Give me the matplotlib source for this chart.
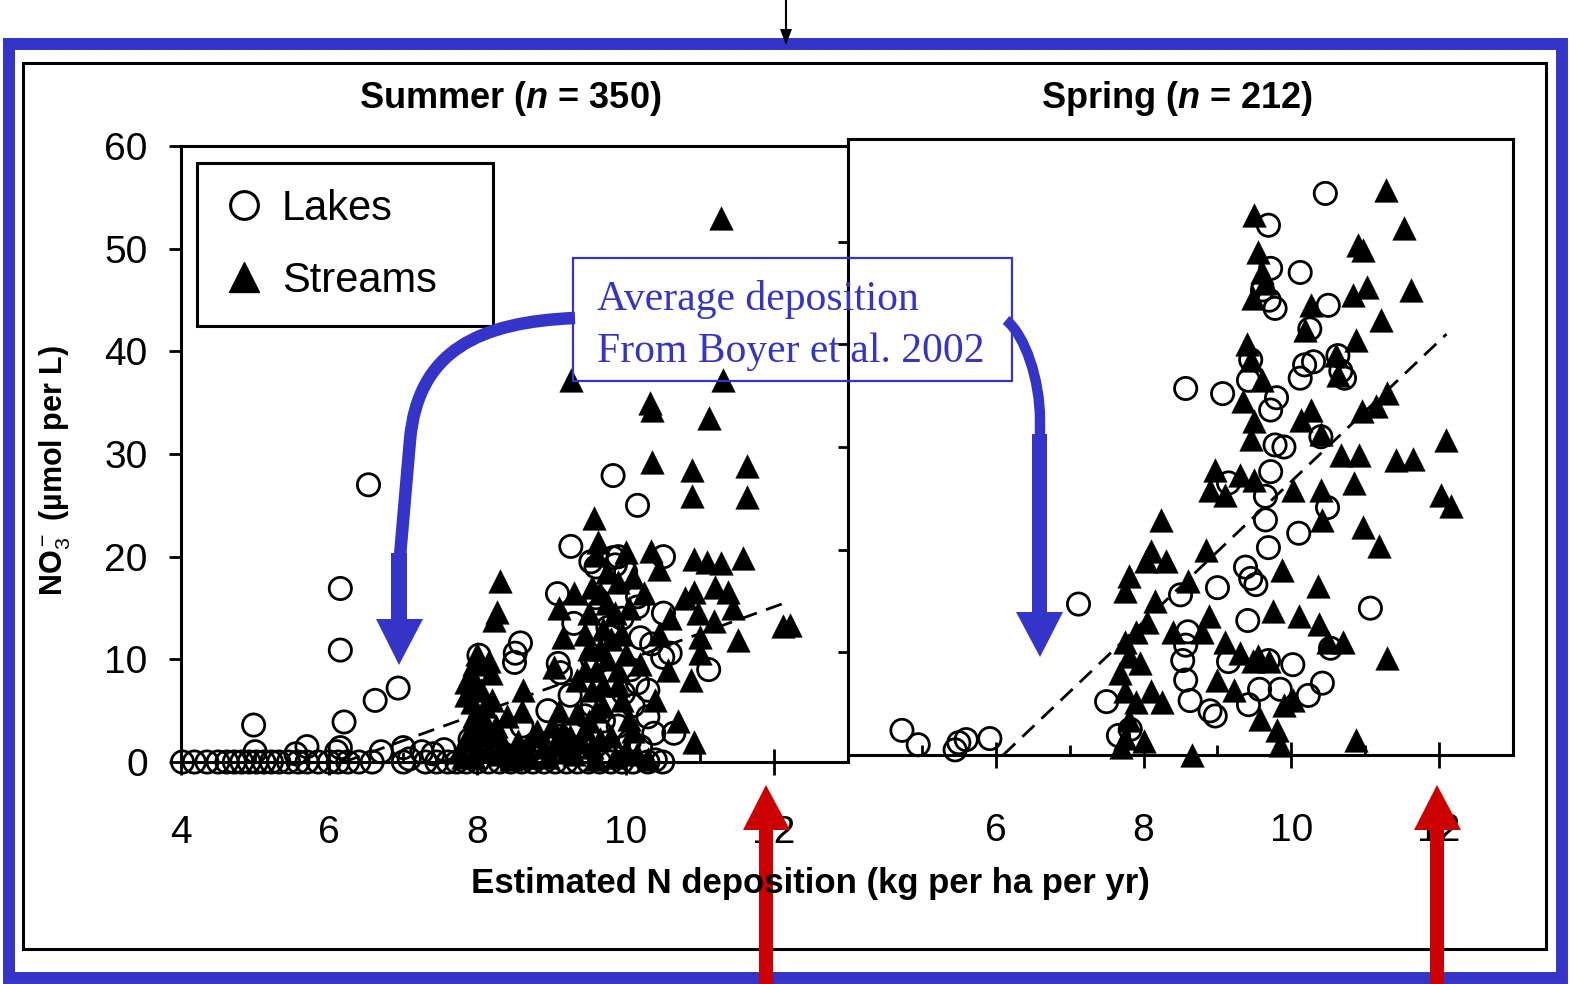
import matplotlib
matplotlib.use("Agg")
import matplotlib.pyplot as plt
from matplotlib.patches import Rectangle, Polygon, PathPatch
from matplotlib.path import Path
from matplotlib.lines import Line2D
from matplotlib.ticker import FixedLocator

plt.rcParams['mathtext.fontset'] = 'custom'
plt.rcParams['mathtext.rm'] = 'Liberation Sans'
plt.rcParams['mathtext.it'] = 'Liberation Sans:italic:bold'

# ---- data (x = N deposition, y = NO3-) ----
summer_lakes = [
    (4.02, 0), (4.18, 0), (4.35, 0), (4.5, 0), (4.62, 0), (4.72, 0), (4.82, 0), (4.92, 0),
    (5.02, 0), (5.12, 0), (5.22, 0), (5.32, 0), (5.45, 0), (5.58, 0), (5.7, 0), (5.85, 0),
    (6.0, 0), (6.12, 0), (6.25, 0), (6.4, 0), (6.58, 0), (7.0, 0), (7.08, 0.3), (7.3, 0),
    (7.45, 0), (7.6, 0), (7.72, 0), (7.85, 0), (8.0, 0), (8.15, 0), (8.3, 0), (8.45, 0),
    (8.6, 0), (8.75, 0), (8.9, 0), (9.05, 0), (9.2, 0), (9.35, 0), (9.5, 0), (9.65, 0),
    (9.8, 0), (9.95, 0), (10.1, 0), (10.3, 0), (10.4, 0.2), (10.5, 0),
    (4.98, 3.6), (5.0, 1.0), (5.55, 0.8), (5.7, 1.5), (6.1, 1.0), (6.15, 1.4), (6.2, 3.9),
    (6.15, 10.9), (6.15, 16.9), (6.53, 27.0), (6.62, 6.0), (6.93, 7.2), (6.7, 1.0),
    (7.0, 1.4), (7.25, 1.0), (7.4, 0.8), (7.55, 1.2),
    (8.02, 10.4), (8.5, 9.7), (8.51, 10.6), (8.58, 11.6), (8.2, 1.5), (8.7, 1.0),
    (9.08, 16.4), (9.26, 21.0), (9.53, 19.5), (9.83, 19.9), (9.86, 19.2), (9.83, 27.9),
    (10.16, 25.0), (10.51, 20.0), (10.51, 14.5), (10.16, 16.1), (10.16, 15.1), (10.6, 10.6),
    (10.5, 10.2), (11.12, 9.0), (9.09, 9.6), (9.12, 8.7), (10.07, 9.0), (10.16, 7.7),
    (9.97, 6.7), (10.3, 4.4), (10.38, 2.8), (10.65, 2.8), (9.8, 12.2), (9.76, 13.1),
    (10.2, 12.1), (10.35, 11.5), (9.95, 14.0), (10.0, 18.5), (9.6, 16.0), (9.55, 5.5),
    (9.7, 4.0), (9.65, 3.0), (9.4, 1.5), (9.9, 3.5), (10.05, 2.0), (8.95, 5.0), (9.1, 2.5),
    (8.6, 3.5), (8.9, 1.8), (7.9, 2.2), (8.35, 0.8), (9.55, 10.0), (9.3, 13.5), (9.25, 6.5),
    (10.3, 7.0), (10.1, 5.5), (10.2, 1.5), (9.8, 8.0), (9.6, 19.0), (9.9, 20.0), (9.45, 4.5),
]

summer_streams = [
    (11.28, 53.0), (9.26, 37.2), (11.31, 37.2), (11.12, 33.5), (10.33, 35.0), (10.35, 34.3),
    (10.35, 29.2), (10.9, 28.4), (11.64, 28.8), (10.9, 25.9), (11.64, 25.8), (9.57, 23.8),
    (8.31, 17.6), (8.26, 14.6), (8.22, 13.8), (9.62, 21.4), (9.6, 20.2), (10.34, 20.6),
    (10.92, 19.8), (11.1, 19.5), (11.28, 19.4), (11.58, 19.9), (11.38, 16.6), (10.92, 16.6),
    (10.1, 18.0), (10.97, 14.5), (11.19, 13.7), (11.51, 11.9), (12.12, 13.2), (12.22, 13.3),
    (11.0, 10.6), (10.88, 8.0), (10.57, 9.0), (10.92, 1.9), (8.61, 7.0), (9.16, 12.2),
    (9.03, 9.3), (7.9, 8.3), (7.85, 6.5), (7.92, 5.8), (8.18, 8.7), (8.05, 7.0), (8.2, 6.0),
    (8.1, 4.0), (7.9, 3.0), (8.0, 1.5), (7.8, 0.5), (8.3, 0.8), (8.5, 1.0), (8.7, 0.5),
    (8.9, 1.5), (9.0, 3.5), (9.1, 5.0), (9.2, 1.0), (9.4, 2.0), (9.5, 4.0), (9.55, 7.0),
    (9.6, 9.0), (9.65, 11.0), (9.7, 13.0), (9.75, 15.5), (9.55, 17.0), (9.45, 12.5),
    (9.5, 14.5), (9.7, 5.5), (9.8, 2.5), (9.85, 0.5), (10.0, 1.2), (10.1, 3.0), (10.2, 9.5),
    (10.0, 10.5), (9.9, 17.5), (10.0, 20.5), (10.45, 12.5), (10.45, 18.8), (10.8, 16.0),
    (11.2, 17.0), (10.7, 4.0), (10.4, 6.0), (10.6, 14.0), (11.45, 15.0), (9.35, 8.0),
    (9.25, 2.5), (8.8, 3.0), (8.55, 2.0), (8.2, 2.5), (7.95, 9.5), (8.0, 7.5), (9.9, 7.5),
    (10.25, 16.5), (9.3, 16.5), (9.1, 15.0), (8.6, 0.5), (9.6, 0.3), (10.3, 0.3), (11.0, 12.2),
    (7.75, 1.0), (7.85, 2.0), (7.95, 0.5), (8.05, 2.8), (8.15, 1.2), (8.25, 3.5), (8.35, 1.8),
    (8.45, 0.3), (8.65, 1.5), (8.75, 2.5), (8.95, 0.5), (9.05, 1.8), (9.15, 3.0), (9.3, 0.8),
    (9.45, 3.2), (9.55, 1.5), (9.65, 2.2), (9.7, 7.5), (9.75, 10.0), (9.8, 12.0), (9.85, 14.5),
    (9.65, 16.5), (9.75, 18.5), (9.9, 9.0), (9.95, 6.0), (10.05, 4.2), (10.15, 0.8), (9.6, 5.0),
    (9.5, 11.0), (9.45, 9.0), (7.95, 4.5), (8.1, 5.5), (8.0, 10.5), (8.15, 9.8), (7.85, 7.8),
    (8.4, 4.5), (8.6, 5.0), (9.35, 4.8), (10.05, 15.0), (9.95, 12.5),
]

spring_lakes = [
    (10.46, 54.7), (9.69, 51.6), (9.72, 47.4), (10.12, 47.0), (9.61, 45.3), (9.7, 44.3),
    (9.78, 43.5), (10.25, 41.5), (10.5, 43.8), (10.63, 38.9), (10.67, 37.4), (10.72, 36.7),
    (10.3, 38.3), (10.12, 36.7), (10.18, 38.0), (8.57, 35.7), (9.07, 35.2), (9.45, 38.5),
    (9.42, 36.5), (9.8, 34.8), (9.72, 33.6), (9.78, 30.2), (9.72, 27.6), (9.65, 25.2),
    (7.12, 14.7), (7.5, 5.2), (7.66, 1.9), (8.5, 15.6), (8.57, 10.7), (8.53, 9.2),
    (8.57, 7.3), (8.63, 5.3), (8.9, 4.3), (8.97, 3.8), (9.0, 16.3), (9.38, 18.3),
    (9.45, 17.2), (9.52, 16.6), (9.65, 22.9), (9.69, 20.2), (10.1, 21.6), (10.49, 24.1),
    (9.41, 13.1), (9.69, 9.2), (9.42, 4.9), (9.85, 6.4), (9.57, 6.4), (10.02, 8.8),
    (10.23, 5.8), (10.42, 7.0), (10.53, 10.4), (11.07, 14.3), (9.15, 9.1), (4.73, 2.4),
    (4.95, 1.0), (5.45, 0.5), (5.5, 1.2), (5.6, 1.5), (5.92, 1.6), (7.82, 2.5), (8.6, 12.0),
    (9.9, 30.0), (10.4, 31.0), (9.15, 26.5),
]

spring_streams = [
    (11.28, 55.0), (9.49, 52.6), (11.52, 51.3), (10.9, 49.7), (10.97, 49.2), (11.62, 45.3),
    (11.03, 45.6), (10.83, 44.8), (9.55, 49.0), (9.6, 47.0), (9.48, 44.5), (9.65, 46.0),
    (11.21, 42.4), (10.26, 43.8), (10.19, 41.4), (10.87, 40.4), (9.45, 38.5), (9.4, 40.0),
    (9.6, 36.5), (9.35, 34.5), (9.5, 32.5), (10.6, 39.0), (10.63, 37.0), (11.3, 35.3),
    (10.95, 33.5), (11.15, 34.0), (10.26, 33.6), (10.13, 32.6), (10.4, 31.3), (10.67, 29.2),
    (10.91, 29.2), (11.41, 28.7), (11.64, 28.8), (12.09, 30.7), (12.02, 25.3), (12.16, 24.3),
    (8.97, 27.8), (8.9, 25.8), (9.1, 25.3), (9.3, 27.3), (9.5, 26.8), (9.45, 30.8),
    (10.02, 25.8), (10.4, 25.8), (10.42, 22.9), (8.23, 22.9), (8.1, 19.9), (8.03, 18.9),
    (8.3, 18.9), (7.75, 16.0), (7.8, 17.4), (8.15, 15.0), (8.6, 16.9), (8.88, 13.5),
    (8.79, 12.0), (9.88, 18.0), (10.36, 16.5), (10.38, 12.8), (10.5, 11.0), (10.7, 11.0),
    (10.97, 22.2), (10.85, 26.5), (11.18, 20.4), (11.3, 9.4), (7.75, 11.0), (7.8, 9.6),
    (7.95, 9.0), (7.68, 8.0), (7.75, 6.2), (7.9, 5.2), (8.1, 6.2), (8.25, 5.2), (7.8, 3.4),
    (7.7, 0.8), (7.75, 1.7), (8.0, 1.4), (8.65, 0.0), (9.85, 1.0), (10.87, 1.5), (9.0, 7.3),
    (9.22, 6.3), (9.48, 9.2), (9.7, 9.2), (9.3, 9.9), (9.55, 9.6), (9.9, 4.9), (10.02, 5.4),
    (9.8, 2.4), (9.1, 11.0), (8.85, 20.0), (8.05, 13.0), (7.9, 12.0), (8.4, 12.0),
    (9.75, 14.0), (9.58, 3.5), (10.1, 13.5),
]

# dashed fitted lines (end points)
summer_fit_x = [6.2, 12.15]
summer_fit_y = [0, 15.5]
spring_fit_x = [6.1, 12.1]
spring_fit_y = [0, 41.0]

x_ticks_summer = [4, 6, 8, 10, 12]
x_ticks_spring = [6, 8, 10, 12]
y_ticks = [0, 10, 20, 30, 40, 50, 60]

W, H = 1571, 984
BLUE = '#3434c8'
RED = '#cc0000'


def box(l, t, r, b):
    return [l / W, 1 - b / H, (r - l) / W, (b - t) / H]


fig = plt.figure(figsize=(W / 100, H / 100), dpi=100)

ax1 = fig.add_axes(box(181, 146, 848, 762))
ax2 = fig.add_axes(box(848, 139, 1513, 755))

panels = [
    (ax1, summer_lakes, summer_streams, summer_fit_x, summer_fit_y, x_ticks_summer, 29),
    (ax2, spring_lakes, spring_streams, spring_fit_x, spring_fit_y, x_ticks_spring, 32),
]
for ax, lakes, streams, fx, fy, xt, xpad in panels:
    lx, ly = zip(*lakes)
    sx, sy = zip(*streams)
    ax.scatter(lx, ly, s=16 ** 2, facecolors='none', edgecolors='black',
               linewidths=2.0, clip_on=False, zorder=3)
    ax.scatter(sx, sy, s=17 ** 2, marker='^', c='black', linewidths=0.3,
               clip_on=False, zorder=3)
    ax.plot(fx, fy, color='black', lw=2.0, dashes=(6, 3.5), zorder=2)
    ax.set_xlim(4, 13)
    ax.set_ylim(0, 60)
    ax.set_xticks(xt)
    ax.set_xticklabels([str(v) for v in xt])
    ax.xaxis.set_minor_locator(FixedLocator([5, 7, 9, 11]))
    ax.tick_params(axis='x', which='major', direction='inout', length=19, width=2,
                   pad=xpad, labelsize=28, labelfontfamily='Liberation Sans')
    ax.tick_params(axis='x', which='minor', direction='in', length=7, width=2)
    for sp in ax.spines.values():
        sp.set_linewidth(2.2)

ax1.set_yticks(y_ticks)
ax1.tick_params(axis='y', direction='out', length=9, width=2, pad=15,
                labelsize=28, labelfontfamily='Liberation Sans')
ax2.set_yticks(y_ticks[1:-1])
ax2.tick_params(axis='y', direction='out', length=7, width=2, labelleft=False)

# legend
handles = [
    Line2D([], [], marker='o', ls='none', mfc='none', mec='black', ms=20, mew=2.2),
    Line2D([], [], marker='^', ls='none', color='black', ms=22),
]
leg = ax1.legend(handles, ['Lakes', 'Streams'], loc='upper left', mode='expand',
                 bbox_to_anchor=((197 - 181) / 667, (762 - 327) / 616, 296 / 667, 164 / 616),
                 borderaxespad=0, fancybox=False, edgecolor='black', framealpha=1,
                 prop={'family': 'Liberation Sans', 'size': 30},
                 handlelength=1.0, handletextpad=0.42, labelspacing=0.76, borderpad=0.62)
leg.get_frame().set_linewidth(2.2)

# ---- overlay in pixel coordinates for frame, titles and annotations ----
ov = fig.add_axes([0, 0, 1, 1], zorder=10)
ov.set_xlim(0, W)
ov.set_ylim(H, 0)
ov.axis('off')
ov.patch.set_alpha(0)

ov.add_patch(Rectangle((23, 63), 1523, 886, fill=False, lw=2.2, ec='black'))
ov.add_patch(Rectangle((9, 44), 1553, 934, fill=False, lw=8.6, ec=BLUE))

ov.text(510, 99, r'Summer ($\mathit{n}$ = 350)', ha='center', va='center',
        fontsize=26, fontweight='bold', family='Liberation Sans')
ov.text(1177, 99, r'Spring ($\mathit{n}$ = 212)', ha='center', va='center',
        fontsize=26, fontweight='bold', family='Liberation Sans')
ov.text(810, 883, 'Estimated N deposition (kg per ha per yr)', ha='center', va='center',
        fontsize=25, fontweight='bold', family='Liberation Sans')
ov.text(55, 470, r'NO$_3^-$ (µmol per L)', ha='center', va='center', rotation=90,
        fontsize=22, fontweight='bold', family='Liberation Sans')

# annotation box
ov.add_patch(Rectangle((573, 258), 439, 123, fill=False, lw=1.6, ec=BLUE))
ov.text(597, 310, 'Average deposition', color=BLUE, fontsize=30,
        family='Liberation Serif', va='baseline')
ov.text(597, 362, 'From Boyer et al. 2002', color=BLUE, fontsize=30,
        family='Liberation Serif', va='baseline')

# blue curved arrows
left_curve = Path([(575, 318), (480, 322), (418, 350), (410, 440), (400, 556)],
                  [Path.MOVETO, Path.CURVE4, Path.CURVE4, Path.CURVE4, Path.LINETO])
ov.add_patch(PathPatch(left_curve, fill=False, lw=9, ec=BLUE, capstyle='butt'))
ov.add_patch(Polygon([(391, 553), (407, 553), (407, 619), (423, 619), (399, 665),
                      (376, 619), (391, 619)], closed=True, fc=BLUE, ec='none'))

right_curve = Path([(1006, 320), (1025, 335), (1040, 380), (1040, 420), (1040, 437)],
                   [Path.MOVETO, Path.CURVE4, Path.CURVE4, Path.CURVE4, Path.LINETO])
ov.add_patch(PathPatch(right_curve, fill=False, lw=7.5, ec=BLUE, capstyle='butt'))
ov.add_patch(Polygon([(1032, 434), (1047, 434), (1047, 612), (1063, 612), (1040, 657),
                      (1016, 612), (1032, 612)], closed=True, fc=BLUE, ec='none'))

# red arrows from the bottom
for cx in (766, 1437):
    ov.add_patch(Polygon([(cx - 7, 984), (cx + 7, 984), (cx + 7, 830), (cx + 24, 830),
                          (cx, 785), (cx - 23, 830), (cx - 7, 830)],
                         closed=True, fc=RED, ec='none'))

# small black arrow at the top
ov.plot([786, 786], [0, 32], color='black', lw=1.5)
ov.add_patch(Polygon([(780, 29), (792, 29), (786, 45)], closed=True, fc='black', ec='none'))

fig.savefig('out.png', dpi=100)
